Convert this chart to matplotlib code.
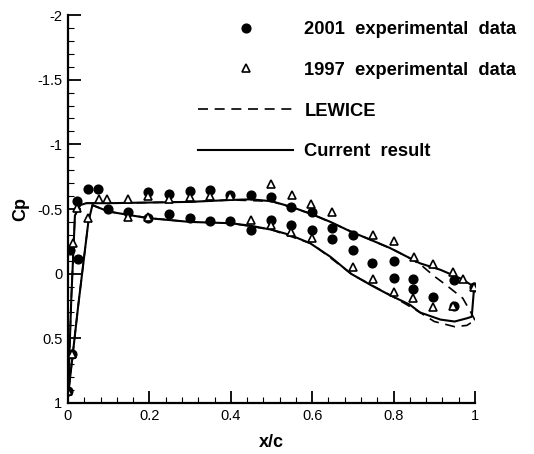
import matplotlib
matplotlib.use("Agg")
import matplotlib.pyplot as plt
from matplotlib.ticker import MultipleLocator, FormatStrFormatter

plt.rcParams["font.family"] = ["Liberation Sans", "DejaVu Sans"]
plt.rcParams["axes.unicode_minus"] = False

# Current result: upper surface (LE -> TE) and lower surface (LE -> TE)
cur_up_x = [0.0, 0.008, 0.017, 0.03, 0.045, 0.1, 0.2, 0.3, 0.4, 0.45, 0.5, 0.545,
            0.595, 0.645, 0.695, 0.745, 0.79, 0.84, 0.865, 0.915, 0.963, 0.998]
cur_up_cp = [0.95, 0.2, -0.45, -0.53, -0.545, -0.545, -0.55, -0.555, -0.57, -0.575,
             -0.56, -0.52, -0.465, -0.40, -0.325, -0.26, -0.20, -0.12, -0.08, -0.03,
             0.035, 0.10]
cur_lo_x = [0.0, 0.025, 0.05, 0.06, 0.1, 0.195, 0.3, 0.4, 0.45, 0.5, 0.545, 0.595,
            0.645, 0.695, 0.745, 0.79, 0.84, 0.865, 0.915, 0.95, 0.98, 0.992]
cur_lo_cp = [0.95, 0.25, -0.40, -0.53, -0.48, -0.43, -0.40, -0.39, -0.37, -0.34,
             -0.30, -0.235, -0.13, 0.0, 0.09, 0.165, 0.24, 0.30, 0.355, 0.37, 0.345,
             0.333]

# LEWICE
lew_up_x = [0.0, 0.008, 0.017, 0.03, 0.045, 0.1, 0.2, 0.3, 0.4, 0.5, 0.6, 0.7,
            0.8, 0.84, 0.87, 0.9, 0.93, 0.97, 0.99, 1.0]
lew_up_cp = [0.95, 0.2, -0.45, -0.53, -0.545, -0.545, -0.55, -0.555, -0.57, -0.56,
             -0.46, -0.32, -0.185, -0.12, -0.06, 0.02, 0.09, 0.19, 0.30, 0.36]
lew_lo_x = [0.0, 0.025, 0.05, 0.06, 0.1, 0.2, 0.3, 0.4, 0.5, 0.6, 0.7, 0.8,
            0.865, 0.9, 0.95, 0.98, 1.0]
lew_lo_cp = [0.95, 0.25, -0.40, -0.53, -0.48, -0.43, -0.40, -0.39, -0.34, -0.23,
             0.01, 0.18, 0.30, 0.37, 0.41, 0.40, 0.36]

# 2001 experimental data
exp01_x = [0.0, 0.009, 0.005, 0.025, 0.023, 0.05, 0.073,
           0.196, 0.247, 0.30, 0.349, 0.398, 0.45, 0.499, 0.547, 0.599,
           0.099, 0.148, 0.197, 0.247, 0.30, 0.349, 0.398, 0.45, 0.499, 0.548, 0.60,
           0.648, 0.648, 0.70, 0.70, 0.748, 0.80, 0.80, 0.848, 0.848, 0.897,
           0.948, 0.948, 0.997]
exp01_cp = [0.91, 0.62, -0.18, -0.11, -0.56, -0.655, -0.655,
            -0.63, -0.615, -0.64, -0.647, -0.608, -0.608, -0.595, -0.513, -0.475,
            -0.50, -0.48, -0.43, -0.46, -0.43, -0.41, -0.41, -0.337, -0.415, -0.376,
            -0.337,
            -0.35, -0.265, -0.30, -0.183, -0.08, -0.10, 0.03, 0.04, 0.115, 0.178,
            0.05, 0.25, 0.10]

# 1997 experimental data
exp97_x = [0.0, 0.009, 0.013, 0.023, 0.05, 0.077, 0.095, 0.148, 0.148, 0.196,
           0.197, 0.247, 0.30, 0.349, 0.398, 0.45, 0.499, 0.499, 0.55, 0.548,
           0.597, 0.60, 0.648, 0.70, 0.75, 0.75, 0.80, 0.80, 0.85, 0.848, 0.897,
           0.897, 0.947, 0.97, 0.947, 0.997]
exp97_cp = [0.91, 0.62, -0.235, -0.505, -0.43, -0.575, -0.575, -0.58, -0.44, -0.60,
            -0.44, -0.58, -0.59, -0.60, -0.60, -0.415, -0.69, -0.38, -0.61, -0.32,
            -0.535, -0.273, -0.475, -0.053, -0.30, 0.045, -0.25, 0.14, -0.126, 0.19,
            -0.075, 0.256, -0.015, 0.045, 0.25, 0.10]

fig = plt.figure(figsize=(5.34, 4.54), dpi=100)
ax = fig.add_axes([68 / 534, 1 - 403 / 454, 407 / 534, 388 / 454])

lw = 1.5
lew_loop_x = lew_up_x[::-1] + lew_lo_x
lew_loop_cp = lew_up_cp[::-1] + lew_lo_cp
cur_loop_x = cur_up_x[::-1] + cur_lo_x + [cur_up_x[-1]]
cur_loop_cp = cur_up_cp[::-1] + cur_lo_cp + [cur_up_cp[-1]]

h_lew, = ax.plot(lew_loop_x, lew_loop_cp, color="black", lw=1.2,
                 ls=(0, (6, 4)), label="LEWICE")
h_cur, = ax.plot(cur_loop_x, cur_loop_cp, color="black", lw=lw,
                 label="Current result")
h01, = ax.plot(exp01_x, exp01_cp, "o", color="black", ms=6.3, ls="none",
               label="2001 experimental data")
h97, = ax.plot(exp97_x, exp97_cp, "^", mfc="white", mec="black", mew=1.2, ms=5.8,
               ls="none", label="1997 experimental data")

ax.set_xlim(0, 1)
ax.set_ylim(1, -2)
ax.xaxis.set_major_locator(MultipleLocator(0.2))
ax.xaxis.set_minor_locator(MultipleLocator(0.04))
ax.yaxis.set_major_locator(MultipleLocator(0.5))
ax.yaxis.set_minor_locator(MultipleLocator(0.1))
ax.xaxis.set_major_formatter(FormatStrFormatter("%g"))
ax.yaxis.set_major_formatter(FormatStrFormatter("%g"))
ax.tick_params(which="major", direction="in", length=9, width=1.3, labelsize=10.5,
               pad=4)
ax.tick_params(which="minor", direction="in", length=4, width=0.8)
ax.tick_params(top=False, right=False, which="both")
for s in ("top", "right"):
    ax.spines[s].set_visible(False)
for s in ("left", "bottom"):
    ax.spines[s].set_linewidth(1.6)

ax.set_xlabel("x/c", fontsize=13, fontweight="bold", labelpad=8)
ax.set_ylabel("Cp", fontsize=13, fontweight="bold", labelpad=6)

leg = ax.legend([h01, h97, h_lew, h_cur],
                ["2001  experimental  data", "1997  experimental  data",
                 "LEWICE", "Current  result"],
                loc="upper left", bbox_to_anchor=(198 / 534, 1 - 21 / 454),
                bbox_transform=fig.transFigure, frameon=False, borderpad=0,
                borderaxespad=0, handlelength=5.2, handletextpad=0.6,
                labelspacing=1.3, numpoints=1,
                prop={"size": 13.2, "weight": "bold"})

fig.savefig("out.png", dpi=100)
